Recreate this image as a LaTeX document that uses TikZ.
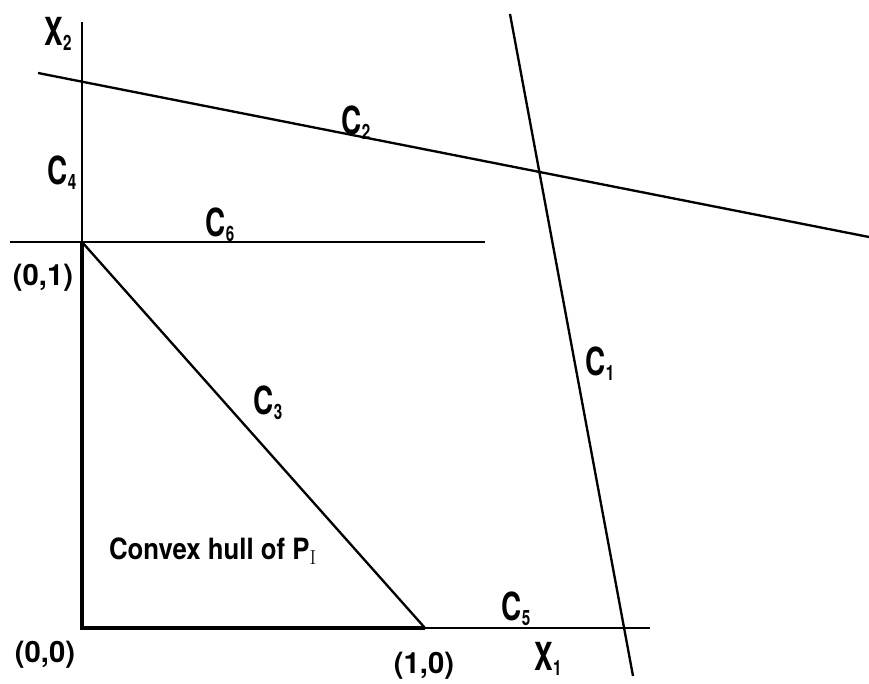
\documentclass[tikz,border=0pt]{standalone}
\usepackage[no-math]{fontspec}
\setmainfont{TeX Gyre Heros}
\newfontfamily\cutfont[FakeStretch=0.72]{TeX Gyre Heros}
\newfontfamily\hullfont[FakeStretch=0.88]{TeX Gyre Heros}
\usetikzlibrary{positioning,calc}
\newcommand{\idx}[1]{\raisebox{-4pt}{\fontsize{18}{18}\selectfont #1}}

\begin{document}
\begin{tikzpicture}[x=0.03cm, y=-0.03cm,
    thinline/.style={line width=2pt},
    thickline/.style={line width=3.8pt, line join=miter},
    lbl/.style={font=\fontsize{25}{28}\selectfont\bfseries, inner sep=0pt},
    cutlbl/.style={font=\cutfont\fontsize{33}{36}\selectfont\bfseries, inner sep=0pt}]
\useasboundingbox (0,0) rectangle (869,684);

% corner points of the hull
\coordinate (O) at (82,628);
\coordinate (P01) at (82,242);
\coordinate (P10) at (425,628);
% free line ends
\coordinate (ax2top) at (82,22);
\coordinate (ax1end) at (650,628);
\coordinate (c6left) at (10,242);
\coordinate (c6right) at (485,242);
\coordinate (c2left) at (38,73);
\coordinate (c2right) at (869,237);
\coordinate (c1top) at (510,14);
\coordinate (c1bot) at (633,676);

% cuts and axes
\draw[thinline] (O) -- (ax2top);
\draw[thinline] (O) -- (ax1end);
\draw[thinline] (c6left) -- (c6right);
\draw[thinline] (c2left) -- (c2right);
\draw[thinline] (c1top) -- (c1bot);
\draw[thinline] (P01) -- (P10);
\draw[thickline] (P01) -- (O) -- (P10);

% labels
\node[cutlbl] (x2) at (58,34) {X\idx{2}};
\node[cutlbl] (x1) at (548,659) {X\idx{1}};
\node[cutlbl] (c1) at (600,364) {C\idx{1}};
\node[cutlbl] (c2) at (356,123) {C\idx{2}};
\node[cutlbl] (c3) at (268,403) {C\idx{3}};
\node[cutlbl] (c4) at (62,173) {C\idx{4}};
\node[cutlbl] (c5) at (516,609) {C\idx{5}};
\node[cutlbl] (c6) at (220,225) {C\idx{6}};
\node[lbl] (l01) at (43,278) {(0,1)};
\node[lbl] (l00) at (45,655) {(0,0)};
\node[lbl] (l10) at (424,666) {(1,0)};
\node[lbl, font=\hullfont\fontsize{25}{28}\selectfont\bfseries] (hull) at (213,551) {Convex hull of P$_{\mathrm{I}}$};
\end{tikzpicture}
\end{document}
